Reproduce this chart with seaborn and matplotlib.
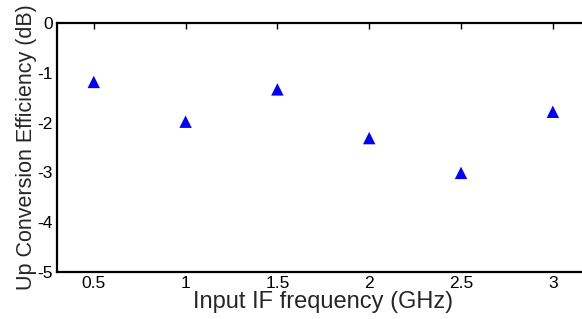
import matplotlib
matplotlib.use("Agg")
import matplotlib.pyplot as plt
import seaborn as sns
import pandas as pd

# Measured up conversion efficiency vs input IF frequency
freq_ghz = [0.5, 1.0, 1.5, 2.0, 2.5, 3.0]
efficiency_db = [-1.18, -1.98, -1.33, -2.31, -3.01, -1.78]

df = pd.DataFrame({"freq": freq_ghz, "eff": efficiency_db})

sns.set_style("white")
plt.rcParams['font.family'] = ['Liberation Sans', 'DejaVu Sans']

fig = plt.figure(figsize=(5.82, 3.19), dpi=100)
ax = fig.add_axes([0.098, 0.148, 0.915, 0.779])

sns.scatterplot(data=df, x="freq", y="eff", marker="^", color="#0000ff",
                s=80, edgecolor="none", ax=ax, legend=False)

ax.set_xlim(0.3, 3.2)
ax.set_ylim(-5, 0)
ax.set_xticks([0.5, 1, 1.5, 2, 2.5, 3])
ax.set_xticklabels(["0.5", "1", "1.5", "2", "2.5", "3"])
ax.set_yticks([0, -1, -2, -3, -4, -5])
ax.set_yticklabels(["0", "-1", "-2", "-3", "-4", "-5"])

ax.tick_params(direction="in", length=4, width=1, top=True, right=True,
               labelsize=12.5, colors="black", pad=3)
for sp in ax.spines.values():
    sp.set_visible(True)
    sp.set_linewidth(1.6)
    sp.set_color("black")

ax.set_xlabel("Input IF frequency (GHz)", fontsize=17, labelpad=0)
ax.set_ylabel("Up Conversion Efficiency (dB)", fontsize=15.5, labelpad=0)

fig.savefig("out.png", dpi=100)
